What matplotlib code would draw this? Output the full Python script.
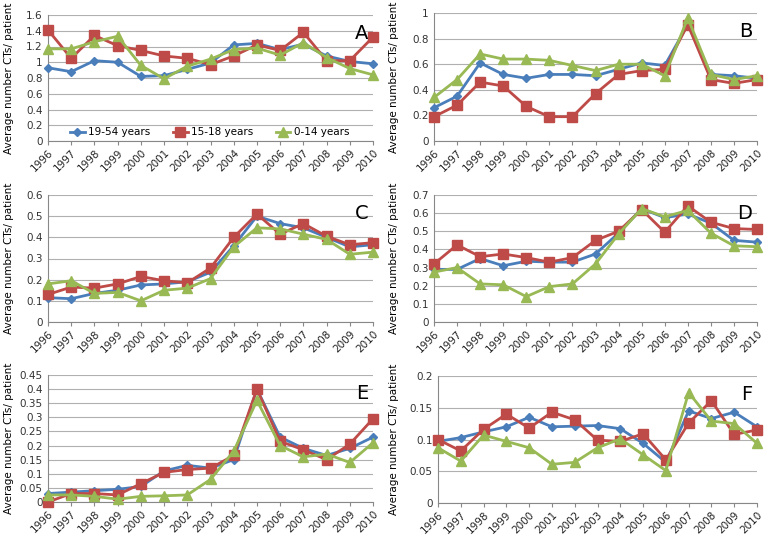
import numpy as np
import matplotlib.pyplot as plt

years = list(range(1996, 2011))
series_names = ['19-54 years', '15-18 years', '0-14 years']

# panel A
a_adult = [0.93, 0.88, 1.02, 1.00, 0.82, 0.83, 0.91, 0.99, 1.22, 1.24, 1.16, 1.23, 1.08, 1.01, 0.98]
a_teen = [1.41, 1.05, 1.34, 1.21, 1.15, 1.08, 1.05, 0.97, 1.08, 1.22, 1.15, 1.38, 1.02, 1.02, 1.32]
a_child = [1.17, 1.17, 1.26, 1.33, 0.96, 0.79, 0.95, 1.04, 1.16, 1.18, 1.09, 1.25, 1.06, 0.92, 0.84]
# panel B
b_adult = [0.26, 0.35, 0.61, 0.52, 0.49, 0.52, 0.52, 0.51, 0.56, 0.61, 0.59, 0.91, 0.52, 0.51, 0.49]
b_teen = [0.19, 0.28, 0.46, 0.43, 0.27, 0.19, 0.19, 0.37, 0.52, 0.55, 0.56, 0.91, 0.48, 0.45, 0.48]
b_child = [0.34, 0.48, 0.68, 0.64, 0.64, 0.63, 0.59, 0.55, 0.60, 0.60, 0.51, 0.96, 0.52, 0.48, 0.51]
# panel C
c_adult = [0.115, 0.11, 0.135, 0.15, 0.175, 0.18, 0.19, 0.235, 0.36, 0.50, 0.465, 0.445, 0.40, 0.355, 0.365]
c_teen = [0.13, 0.165, 0.16, 0.18, 0.215, 0.195, 0.185, 0.255, 0.40, 0.51, 0.415, 0.465, 0.405, 0.365, 0.375]
c_child = [0.18, 0.195, 0.135, 0.14, 0.10, 0.15, 0.16, 0.205, 0.355, 0.445, 0.44, 0.415, 0.39, 0.32, 0.33]
# panel D
d_adult = [0.29, 0.29, 0.35, 0.31, 0.335, 0.33, 0.33, 0.375, 0.49, 0.625, 0.575, 0.595, 0.545, 0.45, 0.44]
d_teen = [0.32, 0.425, 0.36, 0.375, 0.355, 0.33, 0.355, 0.45, 0.50, 0.62, 0.495, 0.64, 0.55, 0.515, 0.51]
d_child = [0.275, 0.30, 0.21, 0.205, 0.14, 0.195, 0.21, 0.32, 0.485, 0.625, 0.58, 0.615, 0.49, 0.42, 0.415]
# panel E
e_adult = [0.03, 0.035, 0.04, 0.045, 0.055, 0.11, 0.13, 0.12, 0.15, 0.40, 0.23, 0.19, 0.165, 0.19, 0.23]
e_teen = [0.0, 0.03, 0.03, 0.025, 0.065, 0.105, 0.115, 0.12, 0.165, 0.40, 0.215, 0.185, 0.15, 0.205, 0.295]
e_child = [0.025, 0.025, 0.02, 0.01, 0.02, 0.022, 0.025, 0.08, 0.18, 0.36, 0.20, 0.16, 0.17, 0.14, 0.21]
# panel F
f_adult = [0.097, 0.103, 0.112, 0.12, 0.135, 0.12, 0.121, 0.122, 0.117, 0.094, 0.064, 0.145, 0.133, 0.143, 0.12]
f_teen = [0.100, 0.082, 0.116, 0.14, 0.118, 0.143, 0.131, 0.099, 0.097, 0.109, 0.068, 0.126, 0.161, 0.108, 0.115]
f_child = [0.087, 0.066, 0.107, 0.097, 0.087, 0.061, 0.064, 0.087, 0.101, 0.076, 0.051, 0.174, 0.129, 0.125, 0.094]

colors = ['#4a7ebb', '#be4b48', '#98b954']
markers = ['D', 's', '^']
msizes = [4, 7, 6.5]

W, H = 772.0, 541.0

def rect(x0, x1, ytop, ybot):
    return [x0 / W, 1 - ybot / H, (x1 - x0) / W, (ybot - ytop) / H]

# letter, axes rect (px), series, ymax, tick step, ylabel x (px)
panels = [
    ('A', (48, 373, 15, 141), (a_adult, a_teen, a_child), 1.6, 0.2, 14),
    ('B', (434, 757, 13, 141), (b_adult, b_teen, b_child), 1.0, 0.2, 399),
    ('C', (48, 373, 195, 322), (c_adult, c_teen, c_child), 0.6, 0.1, 14),
    ('D', (434, 757, 195, 322), (d_adult, d_teen, d_child), 0.7, 0.1, 399),
    ('E', (48, 373, 375, 502), (e_adult, e_teen, e_child), 0.45, 0.05, 14),
    ('F', (438, 757, 376, 503), (f_adult, f_teen, f_child), 0.2, 0.05, 399),
]

plt.rcParams['font.family'] = ['DejaVu Sans']
fig = plt.figure(figsize=(7.72, 5.41), dpi=100)

for letter, px, data, ymax, step, labx in panels:
    ax = fig.add_axes(rect(*px))
    for vals, name, c, m, ms in zip(data, series_names, colors, markers, msizes):
        ax.plot(years, vals, color=c, marker=m, markersize=ms, linewidth=2,
                label=name, clip_on=False, zorder=3)
    ax.set_xlim(1996, 2010)
    ax.set_ylim(0, ymax)
    ticks = np.round(np.arange(0, ymax + step / 2, step), 3)
    ax.set_yticks(ticks)
    ax.set_yticklabels(['{:g}'.format(t) for t in ticks], fontsize=7.5, color='#333333')
    ax.set_xticks(years)
    ax.set_xticklabels([str(y) for y in years], rotation=45, ha='right',
                       rotation_mode='anchor', fontsize=7.5, color='#222222')
    ax.grid(axis='y', color='#b0b0b0', linewidth=0.8)
    ax.set_axisbelow(True)
    for s in ['top', 'right']:
        ax.spines[s].set_visible(False)
    ax.spines['left'].set_color('#888888')
    ax.spines['bottom'].set_color('#888888')
    ax.tick_params(axis='y', length=0, pad=4)
    ax.tick_params(axis='x', length=3, color='#888888', pad=2)
    ax.set_ylabel('Average number CTs/ patient', fontsize=7.5)
    ax.yaxis.set_label_coords(-(px[0] - labx) / (px[1] - px[0]), 0.5)
    ax.text(0.985, 0.93, letter, transform=ax.transAxes, ha='right', va='top',
            fontsize=14, family='Liberation Sans Narrow')
    if letter == 'A':
        ax.legend(loc='center left', bbox_to_anchor=(0.068, 0.07), ncol=3,
                  frameon=False, fontsize=7.5, handlelength=1.4, columnspacing=2.2,
                  handletextpad=0.3, borderaxespad=0, borderpad=0)

fig.savefig('out.png', dpi=100)
